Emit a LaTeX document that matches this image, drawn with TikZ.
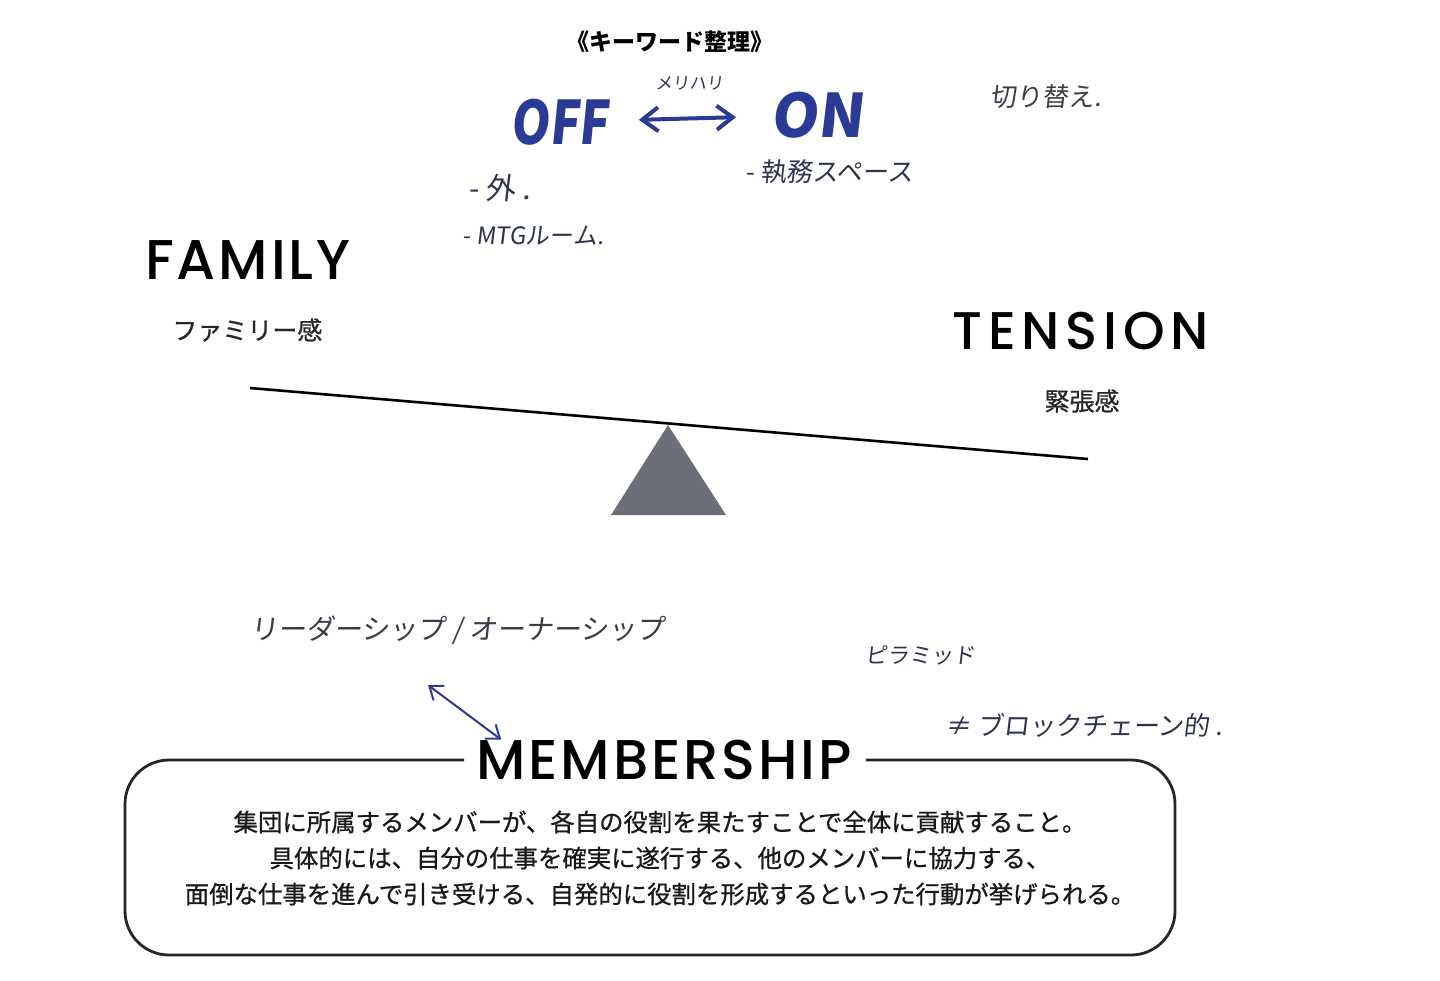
\documentclass[tikz,border=0pt]{standalone}
\usepackage{fontspec}
\setmainfont{Noto Sans CJK JP}
\newfontfamily\geo{Poppins Medium}[LetterSpace=5]
\newfontfamily\geowide{Poppins Medium}[LetterSpace=11]
\newfontfamily\hand{Noto Sans CJK JP}[FakeSlant=0.12]
\newfontfamily\bodyjp{Noto Sans CJK JP}[FakeBold=0.8]
\usetikzlibrary{arrows.meta, positioning, calc}
\definecolor{inkblue}{HTML}{2B3A94}
\definecolor{inkdark}{HTML}{2E3350}
\definecolor{pencil}{HTML}{3A3D48}
\definecolor{fulcrum}{HTML}{6C6F7A}
\tikzset{
    word_big/.style={inner sep=0pt, anchor=west, text=black, font=\geo\fontsize{28}{28}\selectfont},
    word_jp/.style={inner sep=0pt, anchor=west, text=black!85, font=\bodyjp\fontsize{12.5}{12.5}\selectfont},
    note_hand/.style={inner sep=0pt, anchor=west, text=inkdark, font=\hand\fontsize{12}{12}\selectfont},
    note_big/.style={inner sep=0pt, anchor=west, text=inkblue, font=\hand\bfseries\fontsize{30}{30}\selectfont},
    harrow/.style={{Straight Barb[length=8pt,width=12pt]}-{Straight Barb[length=8pt,width=12pt]}, line width=2pt, draw=inkblue},
    frame_box/.style={draw=black!85, line width=1.4pt, rounded corners=22pt}
}
\begin{document}
\begin{tikzpicture}[x=0.5pt, y=-0.5pt]
            \useasboundingbox (0,0) rectangle (1440,980);

            \node (kw) [inner sep=0pt, font=\bfseries\fontsize{11.5}{11.5}\selectfont] at (670,42) {《キーワード整理》};
            \node (off) [note_big] at (510,122) {\scalebox{0.82}[1]{OFF}};
            \node (on) [note_big] at (770,115) {ON};
            \draw [harrow, shorten <=15pt, shorten >=17pt] (off) -- node[above=13pt, note_hand, anchor=south, font=\hand\fontsize{8.5}{8.5}\selectfont]{メリハリ} (on);
            \node (outside) [note_hand, font=\hand\fontsize{15}{15}\selectfont] at (468,188) {- 外 .};
            \node (mtg) [note_hand] at (462,236) {- MTGルーム.};
            \node (work) [note_hand, font=\hand\fontsize{13}{13}\selectfont] at (745,172) {- 執務スペース};
            \node (switch) [note_hand, text=pencil, font=\hand\fontsize{13}{13}\selectfont] at (990,97) {切り替え.};

            \node (family) [word_big] at (145,260) {FAMILY};
            \node (famjp) [word_jp] at (172,330) {ファミリー感};
            \node (tension) [word_big, font=\geowide\fontsize{26.5}{26.5}\selectfont] at (952,331) {TENSION};
            \node (tensjp) [word_jp, anchor=center] at (1082,401) {緊張感};

            \draw [line width=1.3pt] (250,388) -- (1088,459);
            \fill [fulcrum] (668,425) -- (726,515) -- (611,515) -- cycle;

            \node (lead) [note_hand, text=pencil, font=\hand\fontsize{14}{14}\selectfont] at (250,630) {リーダーシップ / オーナーシップ};
            \node (pyramid) [note_hand, font=\hand\fontsize{11}{11}\selectfont] at (865,655) {ピラミッド};
            \node (chain) [note_hand, font=\hand\fontsize{13}{13}\selectfont] at (945,725) {≠ ブロックチェーン的 .};

            \node (mem) [word_big, anchor=center] at (664,760) {MEMBERSHIP};
            \coordinate (la) at (428,685);
            \draw [harrow, line width=1pt, {Straight Barb[length=6pt,width=9pt]}-{Straight Barb[length=6pt,width=9pt]}] (la) -- ($(mem.north west)+(25,0)$);

            \draw [frame_box] ($(mem.west)+(-12,0)$) -| (125,955) -| (1175,760) -- ($(mem.east)+(14,0)$);
            \node (body) [inner sep=0pt, align=center, text=black!90, font=\bodyjp\fontsize{12.2}{18}\selectfont] at (660,858) {集団に所属するメンバーが、各自の役割を果たすことで全体に貢献すること。\\具体的には、自分の仕事を確実に遂行する、他のメンバーに協力する、\\面倒な仕事を進んで引き受ける、自発的に役割を形成するといった行動が挙げられる。};
		\end{tikzpicture}
\end{document}
